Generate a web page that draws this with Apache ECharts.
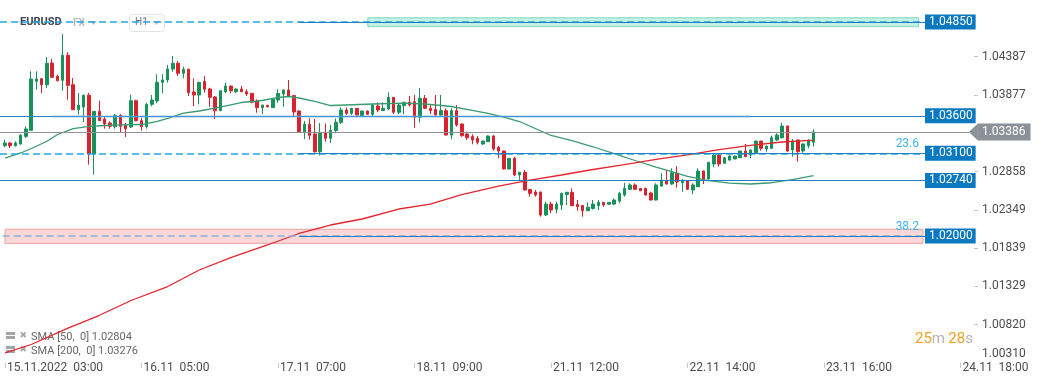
<!DOCTYPE html>
<html><head><meta charset="utf-8">
<script src="https://cdn.jsdelivr.net/npm/echarts@6/dist/echarts.min.js"></script>
<style>html,body{margin:0;padding:0;background:#fff}#c{width:1041px;height:385px}</style>
</head><body><div id="c"></div>
<script>
// ---- data (EURUSD H1) ----
const opens = [
1.03202,1.03238,1.03202,1.03225,1.03327,1.03407,1.04059,1.04094,1.04014,1.04303,
1.04126,1.04073,1.04406,1.04014,1.03681,1.03717,1.03873,1.03091,1.03660,1.03557,
1.03504,1.03455,1.03607,1.03473,1.03451,1.03801,1.03535,1.03455,1.03753,1.03797,
1.04046,1.04077,1.04223,1.04299,1.04166,1.04219,1.03917,1.03877,1.04057,1.03957,
1.03850,1.03668,1.03921,1.03997,1.03921,1.03957,1.03921,1.03900,1.03797,1.03708,
1.03740,1.03708,1.03810,1.03890,1.03944,1.03870,1.03664,1.03388,1.03487,1.03358,
1.03122,1.03371,1.03300,1.03404,1.03513,1.03677,1.03633,1.03700,1.03604,1.03664,
1.03620,1.03731,1.03671,1.03691,1.03846,1.03647,1.03737,1.03780,1.03788,1.03580,
1.03833,1.03700,1.03684,1.03611,1.03668,1.03344,1.03668,1.03491,1.03358,1.03324,
1.03298,1.03225,1.03255,1.03331,1.03181,1.03131,1.02892,1.03034,1.02812,1.02848,
1.02619,1.02585,1.02585,1.02279,1.02425,1.02355,1.02412,1.02552,1.02581,1.02419,
1.02406,1.02336,1.02366,1.02406,1.02448,1.02422,1.02425,1.02465,1.02545,1.02621,
1.02679,1.02632,1.02632,1.02572,1.02479,1.02665,1.02736,1.02692,1.02838,1.02709,
1.02736,1.02612,1.02656,1.02865,1.02758,1.02958,1.03078,1.02968,1.03011,1.03025,
1.03042,1.03131,1.03078,1.03109,1.03264,1.03158,1.03167,1.03278,1.03308,1.03464,
1.03145,1.03278,1.03131,1.03202,1.03247];
const closes = [
1.03238,1.03202,1.03238,1.03340,1.03424,1.04090,1.04090,1.04014,1.04299,1.04113,
1.04067,1.04406,1.04006,1.03681,1.03740,1.03873,1.03091,1.03660,1.03535,1.03491,
1.03460,1.03607,1.03460,1.03428,1.03801,1.03535,1.03455,1.03753,1.03810,1.04046,
1.04077,1.04223,1.04299,1.04166,1.04219,1.03908,1.03877,1.04046,1.03953,1.03846,
1.03668,1.03934,1.03997,1.03934,1.03957,1.03921,1.03890,1.03780,1.03708,1.03744,
1.03721,1.03820,1.03897,1.03944,1.03864,1.03651,1.03388,1.03487,1.03340,1.03122,
1.03371,1.03300,1.03404,1.03513,1.03677,1.03633,1.03700,1.03611,1.03664,1.03620,
1.03744,1.03677,1.03700,1.03846,1.03647,1.03744,1.03780,1.03744,1.03580,1.03833,
1.03700,1.03668,1.03611,1.03668,1.03344,1.03668,1.03478,1.03335,1.03308,1.03278,
1.03247,1.03264,1.03331,1.03158,1.03131,1.02892,1.03034,1.02812,1.02848,1.02612,
1.02568,1.02545,1.02279,1.02425,1.02346,1.02425,1.02568,1.02581,1.02403,1.02390,
1.02336,1.02382,1.02425,1.02448,1.02412,1.02448,1.02479,1.02568,1.02635,1.02679,
1.02621,1.02603,1.02545,1.02479,1.02679,1.02745,1.02692,1.02842,1.02719,1.02745,
1.02621,1.02679,1.02865,1.02758,1.02981,1.03078,1.02958,1.03042,1.03065,1.03065,
1.03131,1.03055,1.03145,1.03264,1.03167,1.03198,1.03308,1.03344,1.03464,1.03131,
1.03264,1.03122,1.03225,1.03264,1.03386];
const lows = [
1.03181,1.03171,1.03189,1.03215,1.03304,1.03407,1.03948,1.03900,1.03970,1.04103,
1.04059,1.03934,1.03814,1.03681,1.03615,1.03517,1.02949,1.02816,1.03535,1.03428,
1.03428,1.03428,1.03371,1.03318,1.03438,1.03527,1.03402,1.03428,1.03727,1.03767,
1.03900,1.04041,1.04187,1.04130,1.04099,1.03864,1.03731,1.03753,1.03908,1.03721,
1.03557,1.03668,1.03900,1.03900,1.03900,1.03917,1.03864,1.03767,1.03641,1.03620,
1.03708,1.03708,1.03774,1.03721,1.03854,1.03588,1.03375,1.03291,1.03284,1.03109,
1.03071,1.03255,1.03238,1.03371,1.03491,1.03611,1.03611,1.03604,1.03584,1.03613,
1.03588,1.03647,1.03664,1.03677,1.03624,1.03620,1.03620,1.03721,1.03441,1.03511,
1.03691,1.03624,1.03604,1.03604,1.03338,1.03287,1.03455,1.03322,1.03278,1.03220,
1.03220,1.03211,1.03251,1.03135,1.03034,1.02885,1.02885,1.02798,1.02745,1.02605,
1.02523,1.02523,1.02256,1.02266,1.02302,1.02302,1.02346,1.02412,1.02399,1.02336,
1.02256,1.02332,1.02352,1.02346,1.02390,1.02415,1.02412,1.02435,1.02523,1.02612,
1.02612,1.02599,1.02539,1.02472,1.02472,1.02656,1.02685,1.02679,1.02643,1.02589,
1.02612,1.02559,1.02652,1.02692,1.02752,1.02914,1.02922,1.02958,1.03002,1.03021,
1.03038,1.03051,1.03034,1.03105,1.03135,1.03122,1.03158,1.03264,1.03300,1.03122,
1.03055,1.02989,1.03109,1.03167,1.03189];
const highs = [
1.03282,1.03247,1.03261,1.03358,1.03460,1.04193,1.04193,1.04103,1.04383,1.04360,
1.04147,1.04689,1.04446,1.04103,1.03904,1.03881,1.03904,1.03660,1.03801,1.03593,
1.03527,1.03624,1.03624,1.03504,1.03881,1.03814,1.03575,1.03774,1.03877,1.04153,
1.04157,1.04277,1.04396,1.04330,1.04254,1.04230,1.04099,1.04054,1.04130,1.03974,
1.03864,1.03944,1.04041,1.03997,1.03966,1.03997,1.03953,1.03900,1.03820,1.03744,
1.03744,1.03828,1.03953,1.03950,1.04077,1.03877,1.03671,1.03531,1.03567,1.03557,
1.03504,1.03497,1.03478,1.03564,1.03711,1.03711,1.03704,1.03704,1.03671,1.03671,
1.03750,1.03780,1.03780,1.03913,1.03850,1.03767,1.03788,1.03864,1.03877,1.03970,
1.03877,1.03744,1.03877,1.03877,1.03700,1.03700,1.03744,1.03500,1.03388,1.03354,
1.03331,1.03271,1.03338,1.03344,1.03198,1.03138,1.03038,1.03055,1.02852,1.02878,
1.02625,1.02612,1.02592,1.02456,1.02456,1.02456,1.02576,1.02589,1.02635,1.02479,
1.02412,1.02448,1.02479,1.02479,1.02452,1.02452,1.02501,1.02589,1.02709,1.02701,
1.02701,1.02635,1.02643,1.02589,1.02701,1.02834,1.02878,1.02901,1.02931,1.02752,
1.02739,1.02701,1.02901,1.02872,1.02985,1.03087,1.03085,1.03047,1.03078,1.03069,
1.03135,1.03225,1.03149,1.03268,1.03268,1.03202,1.03335,1.03367,1.03508,1.03468,
1.03291,1.03282,1.03234,1.03287,1.03420];

// SMA readings (candle index, value)
const sma50Idx = [0,3,5,8,10,13,16,19,22,26,29,31,34,37,41,45,49,52,54,56,59,62,65,70,76,80,85,89,92,95,98,101,104,108,112,116,120,124,127,130,134,138,142,146,150,154];
const sma50Val = [1.03038,1.03105,1.03165,1.03261,1.03351,1.03428,1.03458,1.03471,1.03478,1.03484,1.03527,1.03567,1.03637,1.03664,1.03717,1.03777,1.03804,1.03844,1.03857,1.03837,1.03793,1.03737,1.03744,1.03757,1.03770,1.03757,1.03724,1.03671,1.03633,1.03584,1.03524,1.03431,1.03338,1.03268,1.03188,1.03098,1.03005,1.02918,1.02858,1.02794,1.02736,1.02705,1.02692,1.02709,1.02749,1.02804];
const sma200Idx = [0,5,12,18,24,31,37,43,50,56,62,68,75,81,87,94,100,106,112,118,124,130,136,142,148,154];
const sma200Val = [1.00445,1.00555,1.00774,1.00944,1.01141,1.01327,1.01547,1.01713,1.01880,1.02033,1.02146,1.02226,1.02359,1.02425,1.02552,1.02665,1.02745,1.02812,1.02885,1.02949,1.03021,1.03081,1.03151,1.03205,1.03251,1.03276];

const xTickIdx = [0,26,52,78,104,130,156,182];
const xTickLabels = ['15.11.2022  03:00','16.11  05:00','17.11  07:00','18.11  09:00','21.11  12:00','22.11  14:00','23.11  16:00','24.11  18:00'];
const yTicks = [1.00310,1.00820,1.01329,1.01839,1.02349,1.02858,1.03877,1.04387];
const levelPrices = [1.04850,1.03600,1.03100,1.02740,1.02000];
const levelFib = ['','','23.6','','38.2'];
const lastPrice = 1.03386;
const greenZone = [1.04787,1.04906];
const pinkZone = [1.01902,1.02089];
const legendTexts = ['SMA [50,  0] 1.02804','SMA [200,  0] 1.03276'];
const timerParts = ['25','m','28','s'];

// ---- layout constants ----
const Y_MIN = 1.00310, Y_MAX = 1.05142;
const X_MIN = -0.952, X_MAX = 184.57;
const X_DASH_END = 174.67, X_BOX = 175.24, X_SEG = 56, X_PRICE_END = 183.6;
const levelSolidStart = [X_SEG, X_MIN, X_SEG, X_MIN, X_SEG];
const levelDash = [true,false,true,false,true];
const dashColors = ['#1fa8e6','','#1fa8e6','','#86b2da'];
const blue = '#2180c3', boxBlue = '#0a79bf';
const FONT = 'Roboto';

const candleData = opens.map((o,i)=>[i, o, closes[i], lows[i], highs[i]]);

const lines = [];
levelPrices.forEach((p,k)=>{
  if (levelDash[k]) {
    lines.push([{coord:[k===4?-0.45:X_MIN,p], lineStyle:{color:dashColors[k],type:[7,4],width:1.5},
      label: levelFib[k] ? {show:true, position:'insideEndTop', formatter:levelFib[k], color:'#3db3ec', fontSize:12, fontFamily:FONT, distance:3} : {show:false}},
      {coord:[X_DASH_END,p]}]);
  }
  lines.push([{coord:[levelSolidStart[k],p], lineStyle:{color:blue,type:'solid',width:1},
    label:{show:true, position:'end', distance:0, formatter:p.toFixed(5), color:'#fff', backgroundColor:boxBlue,
      fontSize:12, fontFamily:FONT, lineHeight:13, padding:[1,3,1,4]}},
    {coord:[X_BOX,p]}]);
});
// light band under 1.036
lines.push([{coord:[9,1.03590], lineStyle:{color:'rgba(110,175,225,0.45)',type:'solid',width:2.5}, label:{show:false}},{coord:[142,1.03590]}]);
// current price
lines.push([{coord:[X_MIN,lastPrice], lineStyle:{color:'#8d9297',type:'solid',width:1},
  label:{show:true, position:'end', distance:9, formatter:lastPrice.toFixed(5), color:'#fff', backgroundColor:'#8a9197',
    fontSize:12, fontFamily:FONT, lineHeight:13, padding:[2,5,2,4]}},
  {coord:[X_PRICE_END,lastPrice]}]);

const chart = echarts.init(document.getElementById('c'));
chart.setOption({
  animation:false,
  backgroundColor:'#ffffff',
  grid:{left:0,right:67,top:0,bottom:22.1,containLabel:false,outerBoundsMode:'none'},
  xAxis:{type:'value',min:X_MIN,max:X_MAX,splitLine:{show:false},axisLine:{show:false,onZero:false},
    axisTick:{show:true,length:5,lineStyle:{color:'#c8c8c8'},customValues:xTickIdx},
    axisLabel:{customValues:xTickIdx,align:'left',margin:-1,padding:[0,0,0,2],color:'#4d4d4d',fontSize:12,fontFamily:FONT,
      formatter:v=>{const k=xTickIdx.indexOf(Math.round(v));return k>=0?xTickLabels[k]:'';}}},
  yAxis:{type:'value',position:'right',min:Y_MIN,max:Y_MAX,splitLine:{show:false},axisLine:{show:false,onZero:false},
    axisTick:{show:true,length:4,lineStyle:{color:'#c8c8c8'},customValues:yTicks.slice(1)},
    axisLabel:{customValues:yTicks,margin:8,color:'#4d4d4d',fontSize:12,fontFamily:FONT,
      formatter:v=>Math.abs(v-yTicks[0])<1e-9?'{lo|'+v.toFixed(5)+'}':v.toFixed(5),
      rich:{lo:{padding:[0,0,18,0],fontSize:12,color:'#4d4d4d',fontFamily:FONT}}}},
  series:[
    {type:'line',data:[],z:2,silent:true,
      markArea:{silent:true,label:{show:false},data:[
        [{coord:[69.1,greenZone[1]],itemStyle:{color:'rgba(120,222,190,0.45)',borderColor:'#86d9bf',borderWidth:1}},{coord:[174.0,greenZone[0]]}],
        [{coord:[0,pinkZone[1]],itemStyle:{color:'rgba(244,150,150,0.38)',borderColor:'#eea3a3',borderWidth:1}},{coord:[174.86,pinkZone[0]]}]
      ]},
      markLine:{silent:true,symbol:['none','none'],animation:false,data:lines}},
    {type:'candlestick',z:3,barWidth:3,data:candleData,encode:{x:0,y:[1,2,3,4]},
      itemStyle:{color:'#17925a',color0:'#d8232f',borderColor:'#17925a',borderColor0:'#d8232f',borderWidth:1}},
    {type:'line',z:4,data:sma50Idx.map((x,i)=>[x,sma50Val[i]]),showSymbol:false,symbol:'none',
      lineStyle:{color:'#3a9a70',width:1.3}},
    {type:'line',z:4,data:sma200Idx.map((x,i)=>[x,sma200Val[i]]),showSymbol:false,symbol:'none',
      lineStyle:{color:'#e2262d',width:1.3}}
  ]
});

const py = chart.convertToPixel({yAxisIndex:0}, lastPrice);
const px = chart.convertToPixel({xAxisIndex:0}, X_PRICE_END);
const g = [
  {type:'text',left:20,top:17,style:{text:'EURUSD',font:'bold 11px Roboto',fill:'#3c4852'}},
  {type:'text',left:73,top:18,style:{text:'FX',font:'bold 10px Roboto',fill:'#b3bcc4'}},
  {type:'polygon',shape:{points:[[90,21],[97,21],[93.5,25]]},style:{fill:'#b8c0c8'}},
  {type:'rect',shape:{x:129.5,y:14.5,width:35,height:17,r:3},style:{fill:'none',stroke:'#dfe4e8',lineWidth:1}},
  {type:'text',left:135,top:17,style:{text:'H1',font:'10px Roboto',fill:'#6b7680'}},
  {type:'polygon',shape:{points:[[153,21],[160,21],[156.5,25]]},style:{fill:'#b8c0c8'}},
  {type:'polygon',shape:{points:[[px,py],[px+9,py-8.5],[px+9,py+8.5]]},style:{fill:'#8a9197'},z:100},
  {type:'text',left:915,top:332,style:{text:'{o|'+timerParts[0]+'}{g|'+timerParts[1]+'} {o|'+timerParts[2]+'}{g|'+timerParts[3]+'}',
    rich:{o:{fill:'#f5a020',font:'15px Roboto'},g:{fill:'#b5b5b5',font:'15px Roboto'}}}}
];
legendTexts.forEach((t,k)=>{
  const y0 = 332 + k*14;
  g.push({type:'rect',shape:{x:6,y:y0,width:9,height:3},style:{fill:'#a5a5a5'}});
  g.push({type:'rect',shape:{x:6,y:y0+4,width:9,height:3},style:{fill:'#a5a5a5'}});
  g.push({type:'text',left:19.5,top:y0-1,style:{text:'✖',font:'9px DejaVu Sans',fill:'#a8a8a8'}});
  g.push({type:'text',left:31,top:y0,style:{text:t,font:'11px Roboto',fill:'#666'}});
});
chart.setOption({graphic:g});
</script>
</body></html>
